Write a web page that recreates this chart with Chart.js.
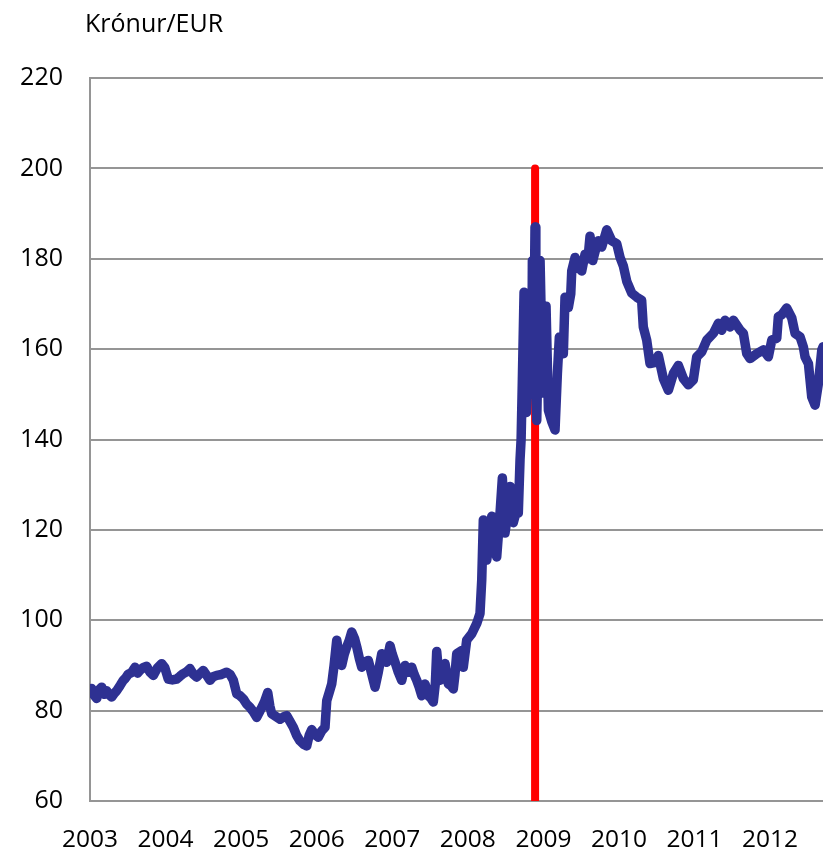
<!DOCTYPE html>
<html>
<head>
<meta charset="utf-8">
<script src="https://cdn.jsdelivr.net/npm/chart.js@4"></script>
<style>
html,body{margin:0;padding:0;background:#fff}
#wrap{position:relative;width:825px;height:851px}
</style>
</head>
<body>
<div id="wrap"><canvas id="c" width="825" height="851"></canvas></div>
<script>
const unitLabel = "Krónur/EUR";
const yearTicks = [2003, 2004, 2005, 2006, 2007, 2008, 2009, 2010, 2011, 2012];
const yMin = 60, yMax = 220, yStep = 20;
const xMin = 2003, xMax = 2012.7;

const dates = [
2003.000,2003.022,2003.050,2003.089,2003.120,2003.155,2003.190,2003.221,2003.255,2003.287,
2003.320,2003.353,2003.400,2003.441,2003.470,2003.507,2003.550,2003.596,2003.630,2003.662,
2003.700,2003.750,2003.790,2003.838,2003.890,2003.949,2003.990,2004.036,2004.090,2004.147,
2004.190,2004.235,2004.280,2004.323,2004.370,2004.412,2004.455,2004.499,2004.545,2004.588,
2004.630,2004.677,2004.740,2004.809,2004.855,2004.897,2004.942,2004.985,2005.029,2005.070,
2005.118,2005.160,2005.206,2005.240,2005.272,2005.310,2005.352,2005.380,2005.405,2005.460,
2005.515,2005.560,2005.603,2005.650,2005.691,2005.735,2005.779,2005.830,2005.868,2005.900,
2005.934,2005.975,2006.021,2006.065,2006.110,2006.133,2006.165,2006.199,2006.230,2006.265,
2006.300,2006.331,2006.365,2006.397,2006.430,2006.463,2006.500,2006.530,2006.565,2006.596,
2006.640,2006.683,2006.730,2006.772,2006.815,2006.861,2006.895,2006.927,2006.970,2007.000,
2007.037,2007.080,2007.125,2007.169,2007.215,2007.258,2007.290,2007.324,2007.360,2007.390,
2007.434,2007.477,2007.510,2007.543,2007.570,2007.588,2007.610,2007.632,2007.698,2007.742,
2007.780,2007.808,2007.830,2007.853,2007.919,2007.940,2007.985,2008.052,2008.118,2008.161,
2008.184,2008.205,2008.225,2008.250,2008.290,2008.316,2008.340,2008.382,2008.426,2008.457,
2008.492,2008.530,2008.559,2008.602,2008.640,2008.668,2008.691,2008.705,2008.720,2008.744,
2008.760,2008.775,2008.800,2008.823,2008.845,2008.854,2008.875,2008.889,2008.900,2008.912,
2008.935,2008.956,2008.980,2008.999,2009.035,2009.066,2009.110,2009.154,2009.185,2009.211,
2009.264,2009.286,2009.330,2009.362,2009.375,2009.419,2009.462,2009.507,2009.551,2009.590,
2009.617,2009.653,2009.690,2009.727,2009.772,2009.838,2009.904,2009.971,2010.014,2010.058,
2010.103,2010.169,2010.235,2010.300,2010.322,2010.367,2010.411,2010.470,2010.521,2010.587,
2010.654,2010.720,2010.786,2010.852,2010.918,2010.984,2011.029,2011.095,2011.162,2011.249,
2011.315,2011.360,2011.404,2011.470,2011.514,2011.603,2011.646,2011.691,2011.735,2011.824,
2011.911,2011.977,2012.022,2012.088,2012.109,2012.154,2012.219,2012.287,2012.330,2012.397,
2012.440,2012.462,2012.507,2012.551,2012.595,2012.639,2012.684,2012.700
];

const rates = [
84.5,84.9,83.5,82.7,84.6,85.2,83.6,84.4,83.5,83.0,
83.8,84.4,85.6,86.7,87.2,88.1,88.4,89.6,88.3,88.9,
89.5,89.8,88.6,87.8,89.4,90.4,89.5,87.0,86.8,87.0,
87.6,88.2,88.6,89.3,88.0,87.4,88.2,88.9,87.8,86.7,
87.5,87.8,88.0,88.5,88.0,86.7,83.7,83.3,82.6,81.5,
80.7,79.8,78.5,79.6,80.7,82.0,84.0,81.0,79.3,78.7,
78.1,78.6,78.9,77.5,76.3,74.5,73.3,72.5,72.2,74.5,
75.8,74.8,74.1,75.5,76.3,82.2,84.0,85.9,90.0,95.6,
92.0,90.0,92.5,94.1,95.5,97.4,96.0,94.1,91.5,89.6,
90.8,91.1,88.0,85.2,88.5,92.6,91.0,90.7,94.4,92.5,
90.7,88.5,86.7,90.0,88.5,89.6,88.0,86.7,85.0,83.3,
85.9,83.3,82.8,81.9,86.0,93.1,89.0,86.7,90.4,85.9,
85.5,84.8,88.0,92.6,93.3,89.6,95.6,97.0,99.3,101.5,
108.9,122.2,117.0,113.3,118.0,123.0,117.0,114.0,123.7,131.5,
119.3,124.0,129.6,121.6,124.0,123.7,135.6,140.0,152.0,172.6,
152.0,146.0,158.0,165.0,150.0,179.6,165.0,187.0,160.0,144.2,
165.0,179.6,160.0,150.3,169.5,146.5,144.0,142.1,154.6,162.7,
159.0,171.5,169.2,172.2,177.3,180.3,178.1,177.3,181.0,180.0,
185.0,179.6,182.0,184.0,182.6,186.4,184.0,183.3,180.3,178.4,
175.0,172.4,171.5,170.8,164.9,162.0,156.8,157.0,158.6,153.5,
150.9,154.6,156.4,153.5,152.1,153.2,158.3,159.4,162.0,163.5,
165.7,164.2,166.4,164.9,166.4,164.2,163.5,159.0,157.9,159.0,
159.8,158.3,162.0,162.4,167.2,167.6,169.1,166.9,163.5,162.7,
160.5,158.3,156.8,149.4,147.6,152.4,159.8,160.5
];

const markerDate = 2008.89;
const markerRange = [60, 200];

const fontFamily = '"Open Sans", "Noto Sans", sans-serif';

const unitTitle = {
  id: 'unitTitle',
  afterDraw(chart) {
    const ctx = chart.ctx;
    ctx.save();
    ctx.font = '25px ' + fontFamily;
    ctx.fillStyle = '#000';
    ctx.textAlign = 'left';
    ctx.textBaseline = 'middle';
    ctx.fillText(unitLabel, 85, 25);
    ctx.restore();
  }
};

new Chart(document.getElementById('c'), {
  type: 'line',
  data: {
    datasets: [
      {
        label: 'Krónur/EUR',
        data: dates.map((d, i) => ({x: d, y: rates[i]})),
        borderColor: '#2E3192',
        borderWidth: 9.5,
        pointRadius: 0,
        tension: 0,
        borderJoinStyle: 'round',
        borderCapStyle: 'round',
        order: 0
      },
      {
        label: 'marker',
        data: markerRange.map(v => ({x: markerDate, y: v})),
        borderColor: '#FF0000',
        borderWidth: 8,
        pointRadius: 0,
        borderCapStyle: 'round',
        order: 1
      }
    ]
  },
  options: {
    responsive: false,
    animation: false,
    devicePixelRatio: 1,
    layout: { padding: { top: 78, right: 2, left: 0, bottom: 0 } },
    plugins: { legend: { display: false }, tooltip: { enabled: false }, title: { display: false } },
    scales: {
      x: {
        type: 'linear',
        min: xMin,
        max: xMax,
        afterBuildTicks: s => { s.ticks = yearTicks.map(v => ({value: v})); },
        afterFit: s => { s.height = 50; },
        grid: { display: false, drawTicks: false },
        border: { display: false },
        ticks: {
          autoSkip: false,
          maxRotation: 0,
          padding: 24,
          color: '#000',
          font: { family: fontFamily, size: 24.5 },
          callback: v => String(v)
        }
      },
      y: {
        min: yMin,
        max: yMax,
        afterFit: s => { s.width = 90; },
        grid: { color: '#959595', lineWidth: 2, drawTicks: false },
        border: { display: true, color: '#959595', width: 2 },
        ticks: {
          stepSize: yStep,
          padding: 27,
          color: '#000',
          font: { family: fontFamily, size: 25 }
        }
      }
    }
  },
  plugins: [unitTitle]
});
</script>
</body>
</html>
